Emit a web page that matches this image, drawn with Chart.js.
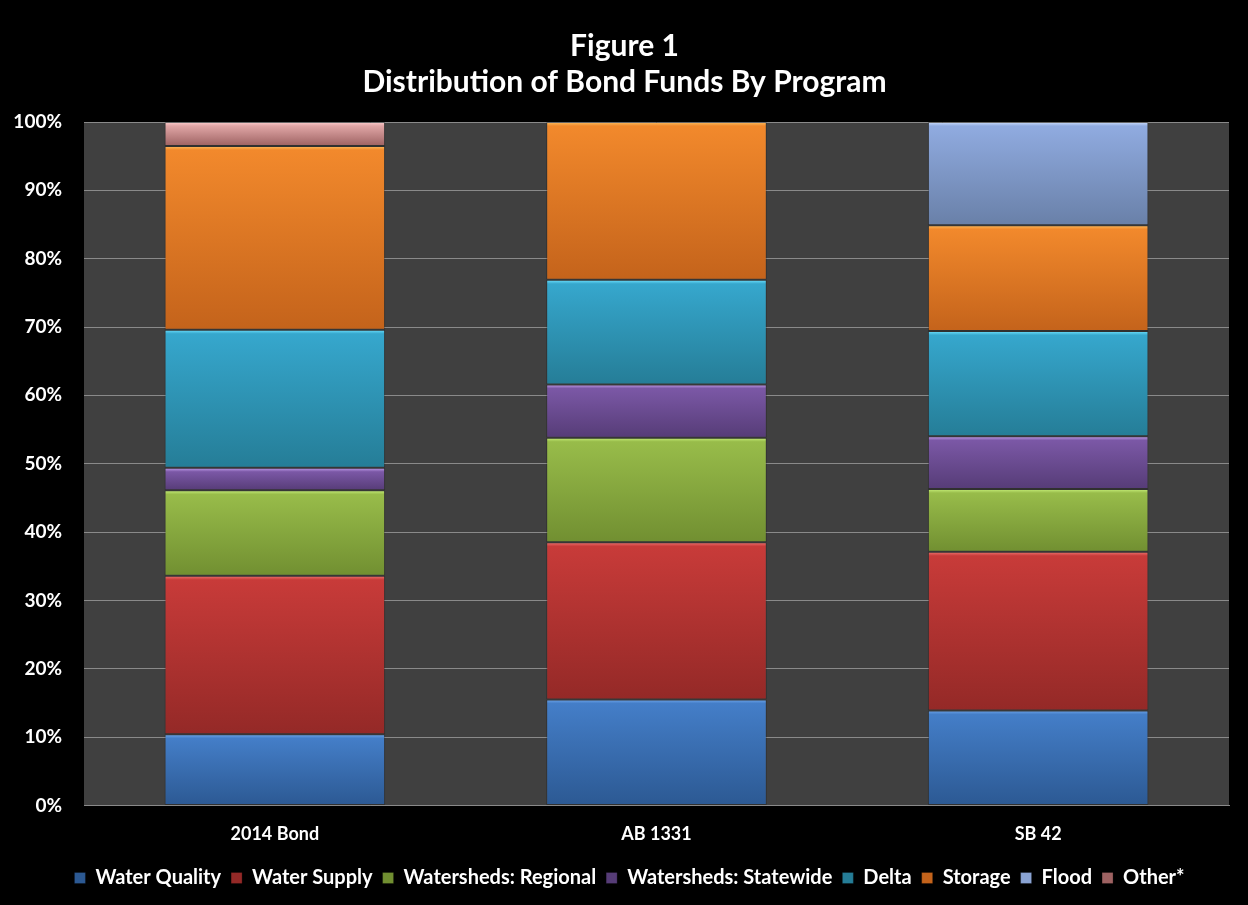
<!DOCTYPE html>
<html>
<head>
<meta charset="utf-8">
<script src="https://cdn.jsdelivr.net/npm/chart.js@4/dist/chart.umd.min.js"></script>
<style>
  html, body { margin: 0; padding: 0; background: #000; }
  #wrap { width: 1248px; height: 905px; position: relative; }
</style>
</head>
<body>
<div id="wrap"><canvas id="c"></canvas></div>
<script>
const categories = ["2014 Bond", "AB 1331", "SB 42"];
const waterQuality        = [10.4, 15.5, 13.9];
const waterSupply         = [23.2, 23.0, 23.2];
const watershedsRegional  = [12.5, 15.3, 9.2];
const watershedsStatewide = [3.3, 7.8, 7.7];
const delta               = [20.2, 15.3, 15.4];
const storage             = [26.9, 23.1, 15.5];
const flood               = [0, 0, 15.1];
const other               = [3.5, 0, 0];
const seriesNames = ["Water Quality", "Water Supply", "Watersheds: Regional", "Watersheds: Statewide", "Delta", "Storage", "Flood", "Other*"];
const seriesValues = [waterQuality, waterSupply, watershedsRegional, watershedsStatewide, delta, storage, flood, other];
const yTicks = [0, 10, 20, 30, 40, 50, 60, 70, 80, 90, 100];

const palette = [
  { base: "#3b72bb", light: "#6fa6ea", top: "#447ec8", bottom: "#2c5993" },
  { base: "#be3836", light: "#f07470", top: "#c83b39", bottom: "#942927" },
  { base: "#8db244", light: "#c8f07a", top: "#98bc4a", bottom: "#718f31" },
  { base: "#6f4f96", light: "#c4a0ee", top: "#7b58a6", bottom: "#563c77" },
  { base: "#3199bb", light: "#6fe2ff", top: "#36a7cd", bottom: "#257d97" },
  { base: "#e67c26", light: "#ffc060", top: "#f2892c", bottom: "#c4631b" },
  { base: "#8aa3d3", light: "#cfe0ff", top: "#90abe0", bottom: "#6980a8" },
  { base: "#d69a9a", light: "#ffd0d0", top: "#e0a6a6", bottom: "#9e6262" }
];

function segmentFill(idx) {
  return function (ctx) {
    const chart = ctx.chart;
    const p = palette[idx];
    if (ctx.type !== 'data' || !chart.chartArea || !chart.scales.y) return p.base;
    const i = ctx.dataIndex;
    let start = 0;
    for (let k = 0; k < idx; k++) start += seriesValues[k][i];
    const end = start + seriesValues[idx][i];
    const y = chart.scales.y;
    const y0 = y.getPixelForValue(start);
    const y1 = y.getPixelForValue(end);
    if (!isFinite(y0) || !isFinite(y1) || Math.abs(y0 - y1) < 1) return p.base;
    const g = chart.ctx.createLinearGradient(0, y1, 0, y0);
    const h = Math.abs(y0 - y1);
    const e = Math.min(0.5, 4 / h);
    g.addColorStop(0, p.light);
    g.addColorStop(e, p.top);
    g.addColorStop(1, p.bottom);
    return g;
  };
}

const datasets = seriesNames.map((name, idx) => ({
  label: name,
  data: seriesValues[idx],
  backgroundColor: segmentFill(idx),
  borderColor: 'rgba(0,0,0,0.25)',
  borderWidth: 1,
  borderSkipped: false,
  categoryPercentage: 1.0,
  barPercentage: 0.578
}));

const bgPlugin = {
  id: 'bg',
  afterLayout(chart) {
    const lg = chart.legend;
    if (lg) { lg.top -= 5; lg.bottom -= 5; lg.left += 15; lg.right += 15; }
    const tb = chart.titleBlock;
    if (tb) { tb.left += 10; tb.right += 10; }
  },
  beforeDraw(chart) {
    const c = chart.ctx;
    c.save();
    c.fillStyle = '#000';
    c.fillRect(0, 0, chart.width, chart.height);
    const a = chart.chartArea;
    c.fillStyle = '#404040';
    c.fillRect(a.left, a.top, a.right - a.left, a.bottom - a.top);
    c.restore();
  }
};

const FONT = "Lato, 'Open Sans', sans-serif";

new Chart(document.getElementById('c'), {
  type: 'bar',
  data: { labels: categories, datasets },
  plugins: [bgPlugin],
  options: {
    responsive: true,
    maintainAspectRatio: false,
    animation: false,
    layout: { padding: { left: 0, right: 19, top: 0, bottom: 2 } },
    plugins: {
      title: {
        display: true,
        text: ["Figure 1", "Distribution of Bond Funds By Program"],
        color: '#ffffff',
        font: { family: FONT, size: 30, weight: 'bold', lineHeight: 1.2 },
        padding: { top: 28, bottom: 22 }
      },
      legend: {
        position: 'bottom',
        labels: {
          color: '#ffffff',
          font: { family: FONT, size: 20, weight: 'bold' },
          boxWidth: 11,
          boxHeight: 11,
          padding: 10
        }
      },
      tooltip: { enabled: false }
    },
    scales: {
      x: {
        stacked: true,
        grid: { display: false, drawTicks: false },
        border: { display: true, color: '#8a8a8a', width: 1 },
        ticks: { color: '#ffffff', font: { family: FONT, size: 18, weight: 'bold' }, padding: 18 }
      },
      y: {
        stacked: true,
        min: 0,
        max: 100,
        afterFit(s) { s.width = 84; },
        afterBuildTicks(s) { s.ticks = yTicks.map(v => ({ value: v })); },
        grid: { color: '#8a8a8a', lineWidth: 1, drawTicks: false },
        border: { display: false },
        ticks: {
          color: '#ffffff',
          font: { family: FONT, size: 19, weight: 'bold' },
          padding: 22,
          callback: v => v + '%'
        }
      }
    }
  }
});
</script>
</body>
</html>
